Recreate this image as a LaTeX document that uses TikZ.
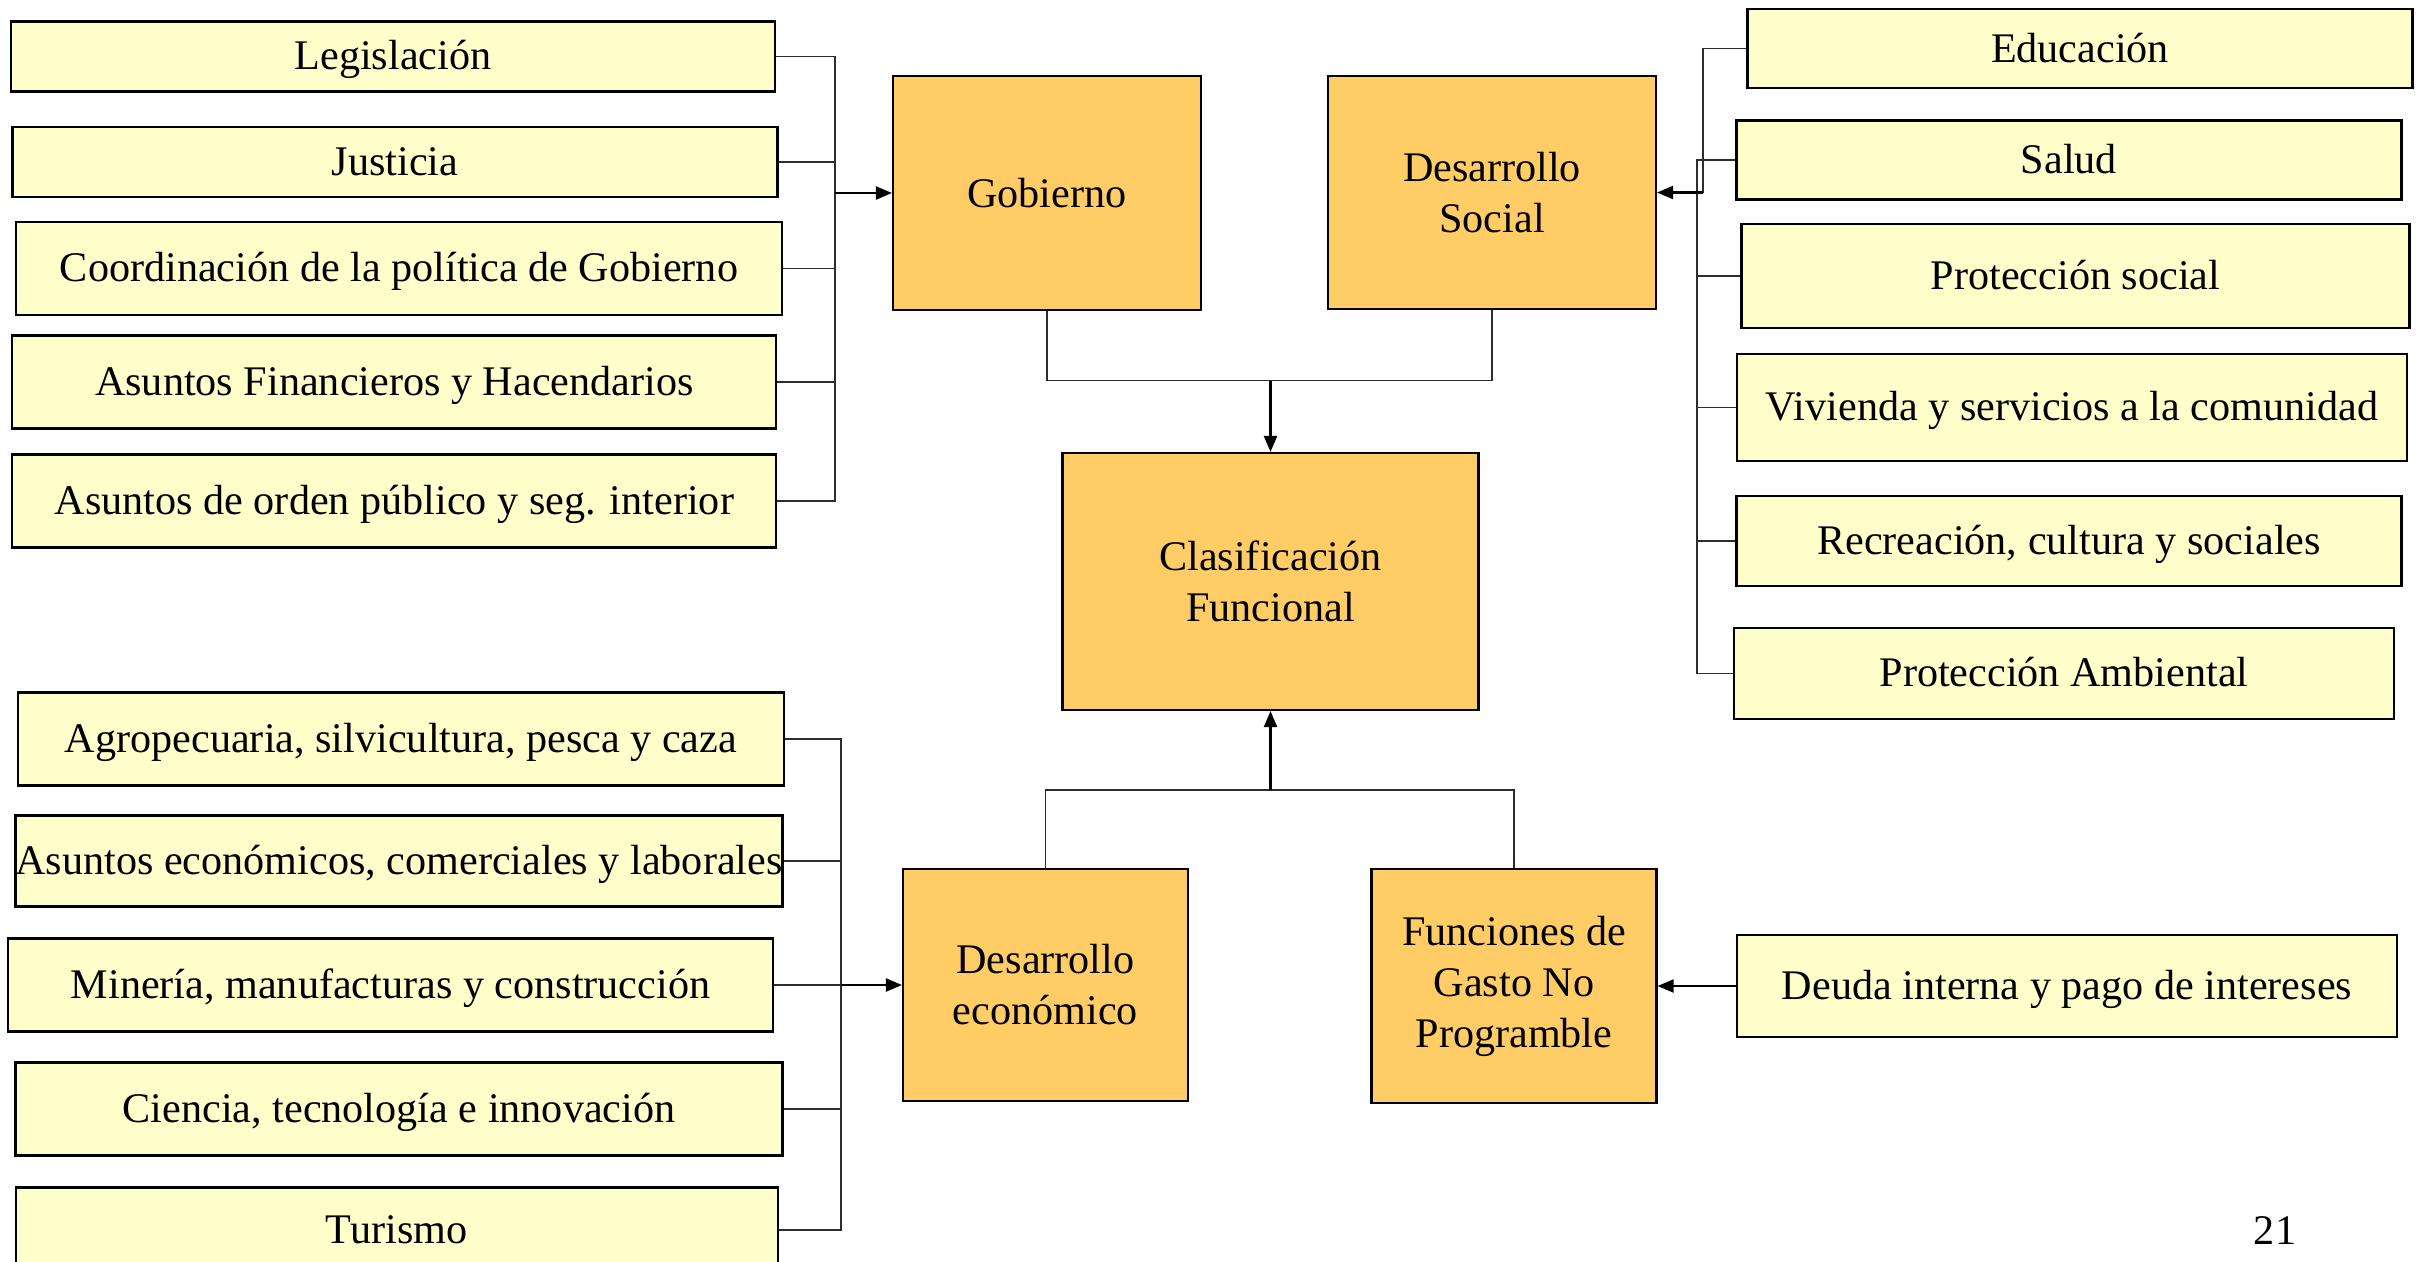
\documentclass[tikz,border=0pt]{standalone}
\usepackage{fontspec}
\setmainfont{Liberation Serif}
\usetikzlibrary{arrows.meta,positioning}
\definecolor{area-color}{RGB}{255,255,204}
\definecolor{group-color}{RGB}{255,204,102}
\definecolor{link-color}{RGB}{45,45,45}
\tikzset{
  area/.style={draw, line width=0.6pt, fill=area-color, inner sep=0pt,
    text height=0.98em, text depth=0.22em, font=\fontsize{12}{14.5}\selectfont},
  group/.style={draw, line width=0.6pt, fill=group-color, inner sep=0pt,
    align=center, font=\fontsize{12}{14.5}\selectfont},
  link/.style={draw=link-color, line width=0.45pt},
  feed/.style={draw=black, line width=0.6pt, -{Triangle[length=1.6mm,width=1.3mm]}}
}
\begin{document}
\begin{tikzpicture}[y=-1cm]
  \useasboundingbox (0,0) rectangle (24.25,12.61);
  \clip (0,0) rectangle (24.25,12.61);
  \fill[white] (0,0) rectangle (24.25,12.61);

  \node[area, minimum width=7.64cm, minimum height=0.70cm] (leg) at (3.93,0.565) {Legislación};
  \node[area, minimum width=7.65cm, minimum height=0.70cm] (jus) at (3.95,1.62) {Justicia};
  \node[area, minimum width=7.66cm, minimum height=0.93cm] (coo) at (3.99,2.685) {Coordinación de la política de Gobierno};
  \node[area, minimum width=7.64cm, minimum height=0.93cm] (fin) at (3.944,3.82) {Asuntos Financieros y Hacendarios};
  \node[area, minimum width=7.64cm, minimum height=0.93cm] (ord) at (3.944,5.01) {Asuntos de orden público y seg. interior};

  \node[group, minimum width=3.08cm, minimum height=2.34cm] (gob) at (10.47,1.93) {Gobierno};
  \node[group, minimum width=3.28cm, minimum height=2.335cm] (soc) at (14.92,1.925) {Desarrollo\\Social};
  \node[group, minimum width=4.16cm, minimum height=2.57cm] (cla) at (12.705,5.815) {Clasificación\\Funcional};
  \node[group, minimum width=2.85cm, minimum height=2.32cm] (eco) at (10.455,9.85) {Desarrollo\\económico};
  \node[group, minimum width=2.85cm, minimum height=2.335cm] (gas) at (15.14,9.86) {Funciones de\\Gasto No\\Programble};

  \node[area, minimum width=6.65cm, minimum height=0.79cm] (edu) at (20.80,0.487) {Educación};
  \node[area, minimum width=6.65cm, minimum height=0.79cm] (sal) at (20.69,1.60) {Salud};
  \node[area, minimum width=6.68cm, minimum height=1.036cm] (pro) at (20.755,2.76) {Protección social};
  \node[area, minimum width=6.70cm, minimum height=1.067cm] (viv) at (20.72,4.075) {Vivienda y servicios a la comunidad};
  \node[area, minimum width=6.65cm, minimum height=0.90cm] (rec) at (20.69,5.41) {Recreación, cultura y sociales};
  \node[area, minimum width=6.60cm, minimum height=0.91cm] (amb) at (20.64,6.735) {Protección Ambiental};

  \node[area, minimum width=7.655cm, minimum height=0.93cm] (agr) at (4.01,7.39) {Agropecuaria, silvicultura, pesca y caza};
  \node[area, minimum width=7.67cm, minimum height=0.91cm, inner xsep=-0.2cm] (com) at (3.99,8.61) {Asuntos económicos, comerciales y laborales};
  \node[area, minimum width=7.656cm, minimum height=0.93cm] (min) at (3.905,9.85) {Minería, manufacturas y construcción};
  \node[area, minimum width=7.67cm, minimum height=0.93cm] (cie) at (3.99,11.09) {Ciencia, tecnología e innovación};
  \node[area, minimum width=7.62cm, minimum height=0.85cm] (tur) at (3.967,12.30) {Turismo};

  \node[area, minimum width=6.60cm, minimum height=1.02cm] (deu) at (20.67,9.86) {Deuda interna y pago de intereses};

  \node[font=\fontsize{12}{14}\selectfont] (pag) at (22.75,12.31) {21};

  \coordinate (busG) at (8.35,1.93);
  \coordinate (busS) at (16.97,1.925);
  \coordinate (busE) at (8.41,9.85);
  \coordinate (topJ) at (12.705,3.805);
  \coordinate (botJ) at (12.705,7.90);

  \foreach \n in {leg,jus,coo,fin,ord}
    \draw[link] (\n.east) -| (busG);
  \draw[feed] (busG) -- (gob.west);

  \draw[link] (edu.west) -| ([xshift=0.6mm]busS);
  \foreach \n in {sal,pro,viv,rec,amb}
    \draw[link] (\n.west) -| (busS);
  \draw[feed] ([xshift=0.6mm]busS) -- (soc.east);

  \draw[link] (gob.south) |- (topJ) -| (soc.south);
  \draw[feed] (topJ) -- (cla.north);
  \draw[link] (eco.north) |- (botJ) -| (gas.north);
  \draw[feed] (botJ) -- (cla.south);

  \foreach \n in {agr,com,min,cie,tur}
    \draw[link] (\n.east) -| (busE);
  \draw[feed] (busE) -- (eco.west);

  \draw[feed] (deu.west) -- (gas.east);
\end{tikzpicture}
\end{document}
